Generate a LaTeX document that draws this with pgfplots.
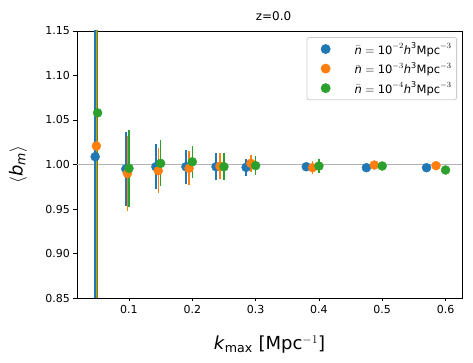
\documentclass[border=0pt]{standalone}
\usepackage{amsmath}
\usepackage{fontspec}
\setmainfont{DejaVu Sans}
\usepackage{pgfplots}
\pgfplotsset{compat=1.18}
\definecolor{tblue}{HTML}{1F77B4}
\definecolor{torange}{HTML}{FF7F0E}
\definecolor{tgreen}{HTML}{2CA02C}

\pgfplotstableread{
k b e
0.0466 1.0088 0.3
0.095 0.9950 0.042
0.1425 0.9975 0.025
0.19 0.9975 0.019
0.2375 0.9975 0.015
0.285 0.9968 0.0095
0.38 0.9975 0.005
0.475 0.9964 0.004
0.57 0.9964 0.003
}\blue
\pgfplotstableread{
k b e
0.0485 1.0208 0.3
0.0975 0.9900 0.042
0.14625 0.9930 0.025
0.195 0.9957 0.019
0.24375 0.9980 0.0145
0.2925 1.0013 0.0095
0.39 0.9964 0.007
0.4875 0.9994 0.004
0.585 0.9987 0.003
}\orange
\pgfplotstableread{
k b e
0.0504 1.0580 0.3
0.1 0.9957 0.043
0.15 1.0013 0.026
0.2 1.0030 0.018
0.25 0.9975 0.015
0.3 0.9987 0.011
0.4 0.9983 0.008
0.5 0.9983 0.004
0.6 0.9938 0.003
}\green

\begin{document}
\begin{tikzpicture}
\begin{axis}[name=ax, scale only axis, width=385pt, height=267pt,
  xmin=0.0179, xmax=0.626, ymin=0.85, ymax=1.15,
  xtick={0.1,0.2,0.3,0.4,0.5,0.6},
  ytick={0.85,0.90,0.95,1.00,1.05,1.10,1.15},
  tick align=outside, tick pos=left,
  major tick length=3.5pt,
  tick style={black, line width=0.8pt},
  axis line style={line width=0.8pt},
  ticklabel style={font=\fontsize{11}{13}\selectfont},
  /pgf/number format/assume math mode=true,
  yticklabel style={/pgf/number format/.cd, fixed, fixed zerofill, precision=2},
  xticklabel style={/pgf/number format/.cd, fixed, precision=1},
  title={z=0.0}, title style={font=\fontsize{12}{14}\selectfont, xshift=4pt, yshift=1pt},
  xlabel={\textit{k}$_{\text{max}}$ [Mpc$^{-1}$]},
  xlabel style={font=\fontsize{18}{20}\selectfont, at={(axis description cs:0.5,0)}, anchor=base, yshift=-52pt},
  legend style={at={(0.987,0.977)}, anchor=north east, rounded corners=2pt,
    draw=black!20, line width=0.8pt, font=\fontsize{11.5}{13}\selectfont,
    row sep=2.5pt, inner xsep=3pt, inner ysep=3pt},
  legend cell align=left,
  legend image code/.code={
    \path[draw=none, fill=none] (0cm,0cm) -- (1.5cm,0cm);
    \draw[#1, line width=1.5pt] (0.55cm,-0.15cm) -- (0.55cm,0.15cm);
    \draw[#1] plot coordinates {(0.55cm,0cm)};
  },
]
\addplot[color=black!30, line width=1.3pt, forget plot] coordinates {(0.0179,1) (0.626,1)};
\addplot[color=tblue, only marks, mark=*, mark size=4.5pt,
  error bars/.cd, y dir=both, y explicit, error mark=none,
  error bar style={line width=1.5pt, color=tblue}]
  table[x=k, y=b, y error=e] {\blue};
\addlegendentry{$\bar{\textit{n}}=\text{10}^{-2}\textit{h}^{\text{3}}\text{Mpc}^{-3}$}
\addplot[color=torange, only marks, mark=*, mark size=4.5pt,
  error bars/.cd, y dir=both, y explicit, error mark=none,
  error bar style={line width=1.5pt, color=torange}]
  table[x=k, y=b, y error=e] {\orange};
\addlegendentry{$\bar{\textit{n}}=\text{10}^{-3}\textit{h}^{\text{3}}\text{Mpc}^{-3}$}
\addplot[color=tgreen, only marks, mark=*, mark size=4.5pt,
  error bars/.cd, y dir=both, y explicit, error mark=none,
  error bar style={line width=1.5pt, color=tgreen}]
  table[x=k, y=b, y error=e] {\green};
\addlegendentry{$\bar{\textit{n}}=\text{10}^{-4}\textit{h}^{\text{3}}\text{Mpc}^{-3}$}
\end{axis}
\node[rotate=90, font=\fontsize{18}{20}\selectfont, anchor=center] at ([xshift=-59pt]ax.west) {$\langle \textit{b}_{\textit{m}}\rangle$};
\pgfresetboundingbox
\path[use as bounding box] ([xshift=-77pt,yshift=-65pt]ax.south west) rectangle ([xshift=11pt,yshift=31pt]ax.north east);
\end{tikzpicture}
\end{document}
